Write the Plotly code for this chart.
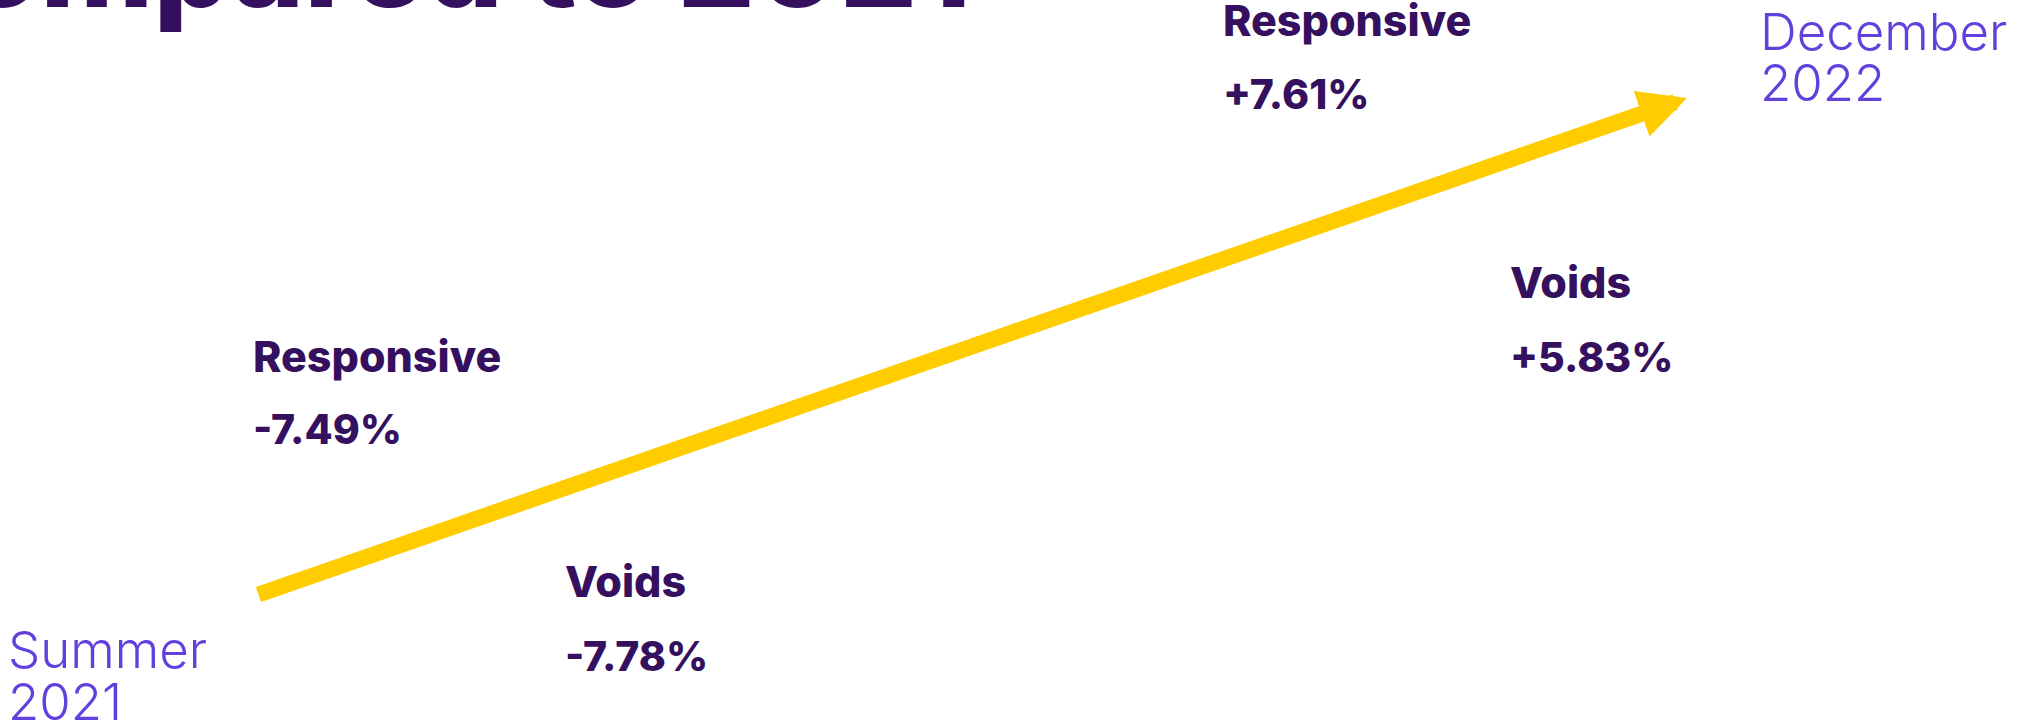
import plotly.graph_objects as go

# ---------------- data ----------------
title_text = "Compared to 2021"
metrics = ["Responsive", "Voids"]
change_summer_2021 = [-7.49, -7.78]
change_december_2022 = [7.61, 5.83]
period_names = ["Summer", "December"]
period_years = ["2021", "2022"]

# ---------------- layout constants (pixels) ----------------
W, H = 2021, 725
DARK = "#35105E"
LIGHT = "#6240DE"
YELLOW = "#FFCC00"
BOLD_FONT = ("Inter", 0.969, 0.242)
REG_FONT = ("Inter", 0.969, 0.242)

# label block positions: (left x, baseline of metric name, baseline of value)
summer_pos = [(251, 372, 444), (563, 597, 671)]
december_pos = [(1221, 36, 109), (1508, 298, 372)]
period_pos = [(6, 668, 720), (1758, 50, 101)]
arrow_tail = (257, 595)
arrow_tip = (1687, 98)

fig = go.Figure()
fig.add_trace(go.Scatter(x=[0, W], y=[0, H], mode="markers",
                         marker=dict(opacity=0), hoverinfo="skip", showlegend=False))


def text_at(txt, left, baseline, size, color, font, weight, anchor="left", vanchor="middle"):
    family, asc, desc = font
    if vanchor == "middle":
        y = baseline - (asc - (asc + desc) / 2) * size
    else:  # bottom
        y = baseline + desc * size + 1
    fig.add_annotation(x=left, y=y, xref="x", yref="y",
                       text=txt, showarrow=False, xanchor=anchor, yanchor=vanchor,
                       font=dict(family=family, size=size, color=color, weight=weight))


NAME_SIZE = 43
VALUE_SIZE = 41
for vals, pos in ((change_summer_2021, summer_pos), (change_december_2022, december_pos)):
    for name, v, (lx, b1, b2) in zip(metrics, vals, pos):
        text_at(name, lx, b1, NAME_SIZE, DARK, BOLD_FONT, 800)
        text_at(f"{v:+.2f}%", lx, b2, VALUE_SIZE, DARK, BOLD_FONT, 800)

PERIOD_SIZE = 51
for name, year, (lx, b1, b2) in zip(period_names, period_years, period_pos):
    text_at(name, lx, b1, PERIOD_SIZE, LIGHT, REG_FONT, 300)
    text_at(year, lx, b2, PERIOD_SIZE, LIGHT, REG_FONT, 300)

# cropped title (its top is cut off by the page edge)
text_at(title_text, 973, 7, 122, DARK, BOLD_FONT, 800, anchor="right", vanchor="bottom")

# arrow
fig.add_annotation(x=arrow_tip[0], y=arrow_tip[1], ax=arrow_tail[0], ay=arrow_tail[1],
                   xref="x", yref="y", axref="x", ayref="y", text="",
                   showarrow=True, arrowhead=2, arrowsize=0.6, arrowwidth=16,
                   arrowcolor=YELLOW, standoff=0)

fig.update_layout(
    width=W, height=H,
    margin=dict(l=0, r=0, t=0, b=0),
    paper_bgcolor="white", plot_bgcolor="white",
    xaxis=dict(range=[0, W], visible=False, fixedrange=True),
    yaxis=dict(range=[H, 0], visible=False, fixedrange=True),
    showlegend=False,
)

fig.write_html("out.html", include_plotlyjs=True, full_html=True,
               config={"displayModeBar": False},
               post_script="document.body.style.margin='0';document.body.style.overflow='hidden';")
